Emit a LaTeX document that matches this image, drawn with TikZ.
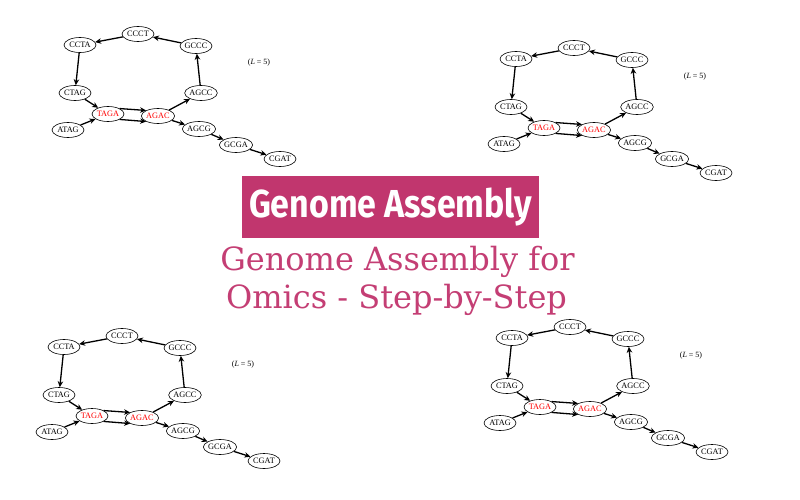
\documentclass[tikz,border=0pt]{standalone}
\usepackage{fontspec}
\setmainfont{Liberation Serif}
\newfontfamily\titlefont[FakeStretch=0.87]{Fira Sans}
\newfontfamily\subfont{DejaVu Serif}
\usetikzlibrary{shapes.geometric,arrows.meta}
\definecolor{magentabox}{RGB}{193,54,110}
\definecolor{magentatext}{RGB}{196,62,116}
\tikzset{
  kmer/.style={ellipse, draw=black, line width=0.6pt, minimum width=32pt, minimum height=15pt, inner sep=0pt, font=\fontsize{8.3}{9}\selectfont},
  redkmer/.style={kmer, text=red},
  edge/.style={line width=1.3pt, -{Stealth[length=6pt,width=5.5pt]}},
  lbl/.style={font=\fontsize{8}{9}\selectfont, inner sep=0pt}
}
\newcommand\dbgraph[3]{%
\begin{scope}[shift={(#2,#3)}, name prefix=#1-]
  \node[kmer] (CCCT) at (138,34) {CCCT};
  \node[kmer] (CCTA) at (80,45) {CCTA};
  \node[kmer] (GCCC) at (196,46) {GCCC};
  \node[kmer] (CTAG) at (75,93) {CTAG};
  \node[kmer] (AGCC) at (201,93) {AGCC};
  \node[redkmer] (TAGA) at (108,114) {TAGA};
  \node[redkmer] (AGAC) at (158,116) {AGAC};
  \node[kmer] (ATAG) at (68,130) {ATAG};
  \node[kmer] (AGCG) at (199,129) {AGCG};
  \node[kmer] (GCGA) at (236,145) {GCGA};
  \node[kmer] (CGAT) at (280,159) {CGAT};
  \node[lbl] (L) at (259,63) {(\textit{L} = 5)};
  \draw[edge] (GCCC) -- (CCCT);
  \draw[edge] (CCCT) -- (CCTA);
  \draw[edge] (CCTA) -- (CTAG);
  \draw[edge] (AGCC) -- (GCCC);
  \draw[edge] (CTAG) -- (TAGA);
  \draw[edge] (ATAG) -- (TAGA);
  \draw[edge] (TAGA.25) -- (AGAC.155);
  \draw[edge] (TAGA.-25) -- (AGAC.-155);
  \draw[edge] (AGAC) -- (AGCC);
  \draw[edge] (AGAC) -- (AGCG);
  \draw[edge] (AGCG) -- (GCGA);
  \draw[edge] (GCGA) -- (CGAT);
\end{scope}}
\begin{document}
\begin{tikzpicture}[x=1pt,y=-1pt]
  \useasboundingbox[fill=white] (0,0) rectangle (800,500);
  \dbgraph{g1}{0}{0}
  \dbgraph{g2}{436}{14}
  \dbgraph{g3}{-16}{302}
  \dbgraph{g4}{432}{293}
  \node[fill=magentabox, minimum width=297pt, minimum height=62pt, inner sep=0pt,
        text=white, font=\titlefont\bfseries\fontsize{39}{40}\selectfont] (title) at (390.5,207) {Genome Assembly};
  \node[anchor=base, text=magentatext, inner sep=0pt, font=\subfont\fontsize{32}{34}\selectfont] (sub1) at (397.5,270) {Genome Assembly for};
  \node[anchor=base, text=magentatext, inner sep=0pt, font=\subfont\fontsize{32}{34}\selectfont] (sub2) at (396.5,308) {Omics - Step-by-Step};
\end{tikzpicture}
\end{document}
